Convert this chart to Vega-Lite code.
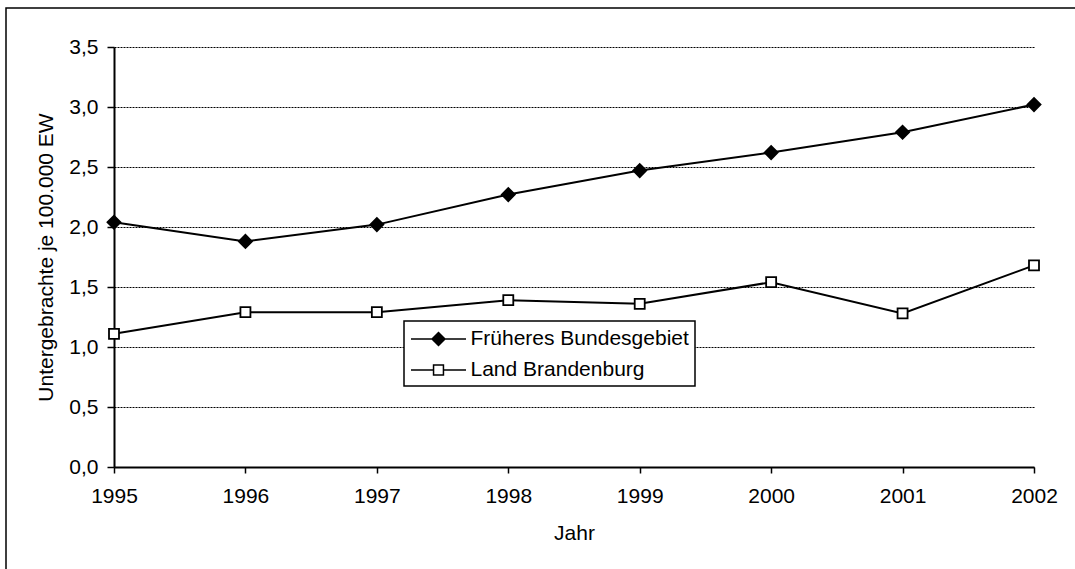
{
  "$schema": "https://vega.github.io/schema/vega-lite/v6.json",
  "width": 1073,
  "height": 565,
  "autosize": {"type": "none"},
  "padding": {"left": 6, "top": 8, "right": -4, "bottom": -4},
  "background": "white",
  "config": {
    "view": {"stroke": "black", "strokeWidth": 1.5},
    "font": "Liberation Sans",
    "legend": {"strokeWidth": 1.5},
    "axis": {
      "labelFont": "Liberation Sans",
      "titleFont": "Liberation Sans",
      "labelFontSize": 21,
      "titleFontSize": 21,
      "titleFontWeight": "normal",
      "labelColor": "black",
      "titleColor": "black",
      "domainColor": "black",
      "domainWidth": 2,
      "tickColor": "black",
      "tickWidth": 1.5
    }
  },
  "data": {
    "values": [
      {"year": 1995, "series": "Früheres Bundesgebiet", "value": 2.04},
      {"year": 1996, "series": "Früheres Bundesgebiet", "value": 1.88},
      {"year": 1997, "series": "Früheres Bundesgebiet", "value": 2.02},
      {"year": 1998, "series": "Früheres Bundesgebiet", "value": 2.27},
      {"year": 1999, "series": "Früheres Bundesgebiet", "value": 2.47},
      {"year": 2000, "series": "Früheres Bundesgebiet", "value": 2.62},
      {"year": 2001, "series": "Früheres Bundesgebiet", "value": 2.79},
      {"year": 2002, "series": "Früheres Bundesgebiet", "value": 3.02},
      {"year": 1995, "series": "Land Brandenburg", "value": 1.11},
      {"year": 1996, "series": "Land Brandenburg", "value": 1.29},
      {"year": 1997, "series": "Land Brandenburg", "value": 1.29},
      {"year": 1998, "series": "Land Brandenburg", "value": 1.39},
      {"year": 1999, "series": "Land Brandenburg", "value": 1.36},
      {"year": 2000, "series": "Land Brandenburg", "value": 1.54},
      {"year": 2001, "series": "Land Brandenburg", "value": 1.28},
      {"year": 2002, "series": "Land Brandenburg", "value": 1.68}
    ]
  },
  "encoding": {
    "x": {
      "field": "year",
      "type": "quantitative",
      "scale": {"domain": [1995, 2002], "range": [108, 1028], "nice": false, "zero": false},
      "axis": {
        "values": [1995, 1996, 1997, 1998, 1999, 2000, 2001, 2002],
        "format": "d",
        "grid": false,
        "offset": -106,
        "tickSize": 6,
        "labelPadding": 12,
        "labelFlush": false,
        "title": "Jahr",
        "titlePadding": 16
      }
    },
    "y": {
      "field": "value",
      "type": "quantitative",
      "scale": {"domain": [0, 3.5], "range": [459, 39], "nice": false, "zero": true},
      "axis": {
        "values": [0, 0.5, 1, 1.5, 2, 2.5, 3, 3.5],
        "labelExpr": "replace(format(datum.value, '.1f'), '.', ',')",
        "grid": true,
        "gridColor": "black",
        "gridDash": [2, 1],
        "gridWidth": 1,
        "offset": -108,
        "tickSize": 7,
        "labelPadding": 9,
        "title": "Untergebrachte je 100.000 EW",
        "titlePadding": 12
      }
    }
  },
  "layer": [
    {
      "mark": {"type": "line", "color": "black", "strokeWidth": 2},
      "encoding": {"detail": {"field": "series", "type": "nominal"}}
    },
    {
      "mark": {"type": "point", "filled": true, "stroke": "black", "strokeWidth": 1.8, "opacity": 1},
      "encoding": {
        "shape": {
          "field": "series", "type": "nominal",
          "scale": {"domain": ["Früheres Bundesgebiet", "Land Brandenburg"], "range": ["diamond", "square"]},
          "legend": null
        },
        "fill": {
          "field": "series", "type": "nominal",
          "scale": {"domain": ["Früheres Bundesgebiet", "Land Brandenburg"], "range": ["black", "white"]},
          "legend": null
        },
        "size": {
          "field": "series", "type": "nominal",
          "scale": {"type": "ordinal", "domain": ["Früheres Bundesgebiet", "Land Brandenburg"], "range": [170, 100]},
          "legend": null
        }
      }
    },
    {
      "mark": {"type": "point", "filled": false, "stroke": "black", "strokeWidth": 1.5, "opacity": 0},
      "encoding": {
        "shape": {
          "field": "series", "type": "nominal",
          "scale": {
            "domain": ["Früheres Bundesgebiet", "Land Brandenburg"],
            "range": [
              "M-2.5,0H-0.59M0.59,0H2.5M-0.59,0L0,-0.59L0.59,0L0,0.59ZM-0.45,0L0,-0.45L0.45,0L0,0.45ZM-0.31,0L0,-0.31L0.31,0L0,0.31ZM-0.17,0L0,-0.17L0.17,0L0,0.17ZM-0.05,0L0,-0.05L0.05,0L0,0.05Z",
              "M-2.5,0H-0.45M0.45,0H2.5M-0.45,-0.45H0.45V0.45H-0.45Z"
            ]
          },
          "legend": {
            "title": null,
            "orient": "none",
            "legendX": 398,
            "legendY": 313,
            "direction": "vertical",
            "symbolSize": 484,
            "symbolOffset": 16.5,
            "labelOffset": 20,
            "padding": 6,
            "rowPadding": 9,
            "strokeColor": "black",
            "fillColor": "white",
            "symbolStrokeColor": "black",
            "symbolFillColor": "white",
            "symbolStrokeWidth": 1.5,
            "symbolOpacity": 1,
            "labelFont": "Liberation Sans",
            "labelFontSize": 21,
            "labelColor": "black",
            "labelLimit": 400
          }
        }
      }
    }
  ],
  "resolve": {"scale": {"shape": "independent", "fill": "independent", "size": "independent"}}
}
